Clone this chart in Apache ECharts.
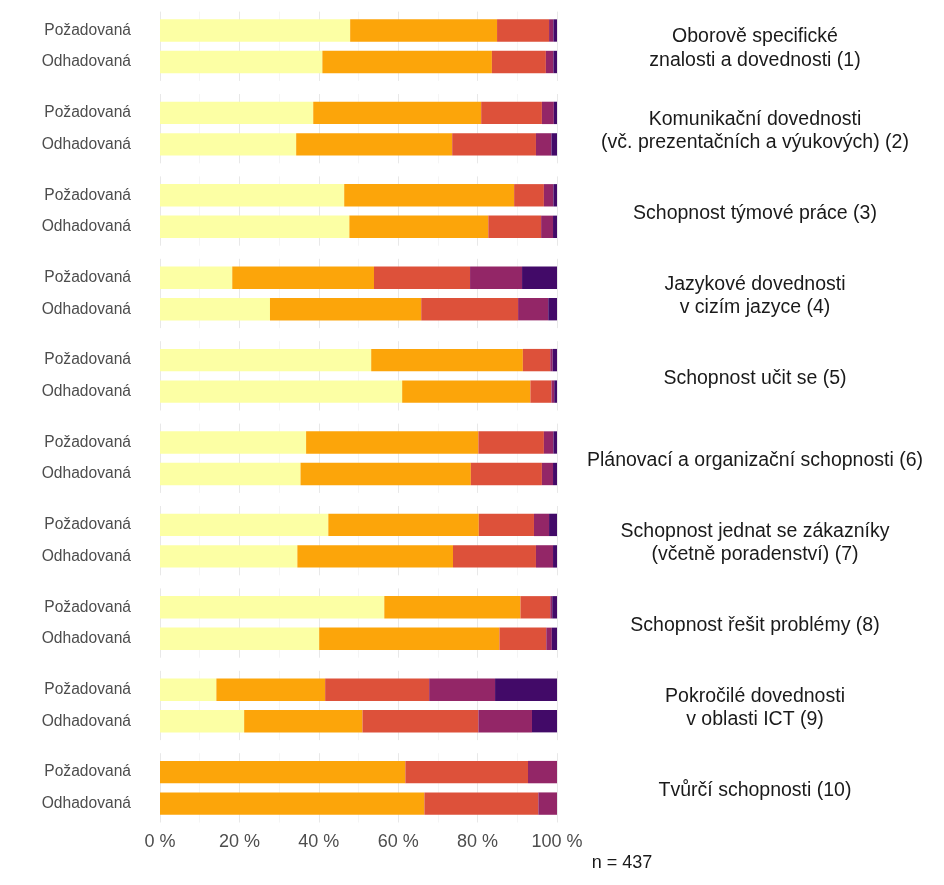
<!DOCTYPE html>
<html>
<head>
<meta charset="utf-8">
<script src="https://cdn.jsdelivr.net/npm/echarts@6/dist/echarts.min.js"></script>
<style>html,body{margin:0;padding:0;background:#fff}#c{width:944px;height:885px}</style>
</head>
<body>
<div id="c"></div>
<script>
// Panels (facets), top to bottom
const panels = [
  'Oborově specifické\nznalosti a dovednosti (1)',
  'Komunikační dovednosti\n(vč. prezentačních a výukových) (2)',
  'Schopnost týmové práce (3)',
  'Jazykové dovednosti\nv cizím jazyce (4)',
  'Schopnost učit se (5)',
  'Plánovací a organizační schopnosti (6)',
  'Schopnost jednat se zákazníky\n(včetně poradenství) (7)',
  'Schopnost řešit problémy (8)',
  'Pokročilé dovednosti\nv oblasti ICT (9)',
  'Tvůrčí schopnosti (10)'
];
const rows = ['Požadovaná', 'Odhadovaná'];
// Segment shares (%), per level; pairs [Požadovaná, Odhadovaná] for each panel
const level1 = [[47.9,40.9],[38.6,34.3],[46.4,47.7],[18.2,27.7],[53.2,61.0],[36.8,35.4],[42.4,34.6],[56.5,40.1],[14.2,21.2],[0,0]];
const level2 = [[37.0,42.7],[42.3,39.3],[42.8,35.0],[35.7,38.1],[38.2,32.3],[43.4,42.9],[37.9,39.2],[34.3,45.4],[27.4,29.8],[61.8,66.6]];
const level3 = [[13.1,13.6],[15.3,21.1],[7.5,13.3],[24.2,24.4],[6.9,5.3],[16.5,17.9],[13.9,20.9],[7.5,11.8],[26.2,29.2],[30.9,28.7]];
const level4 = [[1.1,1.9],[3.0,3.9],[2.4,3.0],[13.1,7.6],[0.6,0.7],[2.4,2.8],[3.8,4.3],[0.5,1.4],[16.6,13.5],[7.3,4.7]];
const level5 = [[0.9,0.9],[0.8,1.4],[0.9,1.0],[8.8,2.2],[1.1,0.7],[0.9,1.0],[2.0,1.0],[1.2,1.3],[15.6,6.3],[0,0]];
const levels = [level1, level2, level3, level4, level5];
const colors = ['#FCFFA4', '#FCA50A', '#DD513A', '#932667', '#420A68'];
const xTicks = [0, 20, 40, 60, 80, 100];
const nText = 'n = 437';

const chart = echarts.init(document.getElementById('c'));
const left = 160, width = 397;
const top0 = 11.6, pitch = 82.4, panelH = 69.3, unit = 31.5;
const grid = [], xAxis = [], yAxis = [], series = [], graphic = [];
panels.forEach((p, i) => {
  const t = top0 + i * pitch;
  // background grid for gridlines (full panel height)
  grid.push({left: left, width: width, top: t, height: panelH});
  // bar grid
  grid.push({left: left, width: width, top: t + (panelH - 2 * unit) / 2, height: 2 * unit});
  const gi = 2 * i, bi = 2 * i + 1;
  const last = i === panels.length - 1;
  xAxis.push({
    gridIndex: gi, type: 'value', min: 0, max: 100, interval: 20,
    axisLine: {show: false}, axisTick: {show: false},
    axisLabel: {show: last, formatter: v => xTicks.includes(v) ? v + ' %' : '', fontSize: 18, color: '#4d4d4d', margin: 11, fontFamily: 'Liberation Sans, Arial, sans-serif'},
    splitLine: {show: true, lineStyle: {color: '#e8e8e8', width: 1}},
    minorTick: {show: false, splitNumber: 2},
    minorSplitLine: {show: true, lineStyle: {color: '#f0f0f0', width: 0.7}}
  });
  yAxis.push({gridIndex: gi, type: 'value', min: 0, max: 1, show: false, splitLine: {show: false}});
  xAxis.push({gridIndex: bi, type: 'value', min: 0, max: 100, show: false, splitLine: {show: false}});
  yAxis.push({
    gridIndex: bi, type: 'category', data: rows, inverse: true,
    axisLine: {show: false}, axisTick: {show: false}, splitLine: {show: false},
    axisLabel: {fontSize: 15.6, color: '#4d4d4d', margin: 29, fontFamily: 'Liberation Sans, Arial, sans-serif'}
  });
  levels.forEach((lv, k) => {
    series.push({
      type: 'bar', name: 'L' + (k + 1), stack: 'p' + i, xAxisIndex: bi, yAxisIndex: bi,
      data: lv[i], barWidth: '71%', itemStyle: {color: colors[k]}, silent: true, animation: false
    });
  });
  graphic.push({
    type: 'text', x: 755, y: t + panelH / 2 + 2.5, silent: true,
    style: {text: p, fill: '#1a1a1a', font: '19.5px "Liberation Sans", Arial, sans-serif', textAlign: 'center', textVerticalAlign: 'middle', lineHeight: 23.5}
  });
});
graphic.push({type: 'text', x: 622, y: 863, silent: true,
  style: {text: nText, fill: '#1a1a1a', font: '18px "Liberation Sans", Arial, sans-serif', textAlign: 'center', textVerticalAlign: 'middle'}});

chart.setOption({animation: false, grid, xAxis, yAxis, series, graphic});
</script>
</body>
</html>
